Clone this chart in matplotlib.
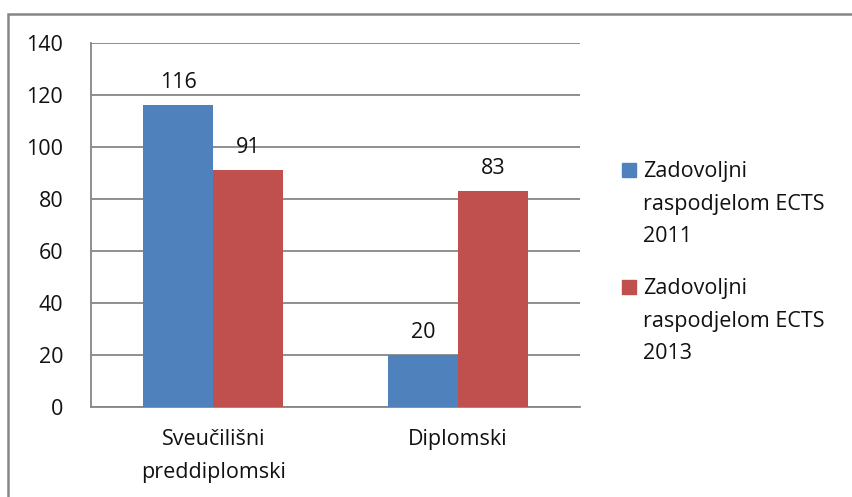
import numpy as np
import matplotlib.pyplot as plt
from matplotlib.patches import Rectangle

categories = ['Sveučilišni\npreddiplomski', 'Diplomski']
series_names = ['Zadovoljni\nraspodjelom ECTS\n2011', 'Zadovoljni\nraspodjelom ECTS\n2013']
vals_2011 = [116, 20]
vals_2013 = [91, 83]
colors = ['#4f81bd', '#c0504d']
grid_col = '#868686'

plt.rcParams['font.family'] = ['Open Sans', 'DejaVu Sans']
fs = 15.5

W, H = 852, 497
fig = plt.figure(figsize=(W / 100, H / 100), dpi=100)

# plot area in pixel coordinates: left 91, right 580, top 43, bottom 407
ax = fig.add_axes([91 / W, 1 - 407 / H, (580 - 91) / W, (407 - 43) / H])

x = np.arange(len(categories))
bw = 0.286
b1 = ax.bar(x - bw / 2, vals_2011, bw, color=colors[0], zorder=3)
b2 = ax.bar(x + bw / 2, vals_2013, bw, color=colors[1], zorder=3)
for bars in (b1, b2):
    ax.bar_label(bars, padding=9, fontsize=fs, color='#111111')

ax.set_xlim(-0.5, 1.5)
ax.set_ylim(0, 140)
ax.set_yticks(range(0, 141, 20))
ax.yaxis.grid(True, color=grid_col, linewidth=1.3, zorder=0)
ax.set_xticks(x)
ax.set_xticklabels(categories, fontsize=fs, linespacing=1.72, va='top')
ax.tick_params(axis='y', labelsize=fs, length=0, pad=20, labelcolor='#111111')
ax.tick_params(axis='x', length=0, pad=16, labelcolor='#111111')
for s in ['top', 'right']:
    ax.spines[s].set_visible(False)
for s in ['left', 'bottom']:
    ax.spines[s].set_color(grid_col)
    ax.spines[s].set_linewidth(1.3)

# legend drawn by hand so the square sits beside the first line
for i, name in enumerate(series_names):
    y0 = 170 + i * 117
    fig.patches.append(Rectangle((622 / W, 1 - (y0 + 7) / H), 14 / W, 14 / H,
                                 transform=fig.transFigure, color=colors[i]))
    fig.text(643 / W, 1 - (y0 - 9) / H, name, fontsize=fs, va='top', ha='left',
             linespacing=1.72, color='#111111')

# outer chart frame
fig.patches.append(Rectangle((8 / W, -0.05), 1.0, 1 - 14 / H + 0.05,
                             transform=fig.transFigure, fill=False,
                             edgecolor=grid_col, linewidth=1.8))

fig.savefig('out.png', dpi=100)
